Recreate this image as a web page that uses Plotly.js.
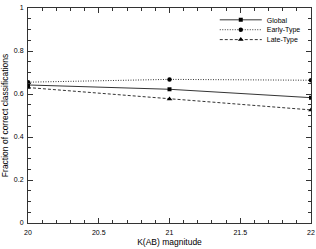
<!DOCTYPE html>
<html>
<head>
<meta charset="utf-8">
<script src="https://cdn.plot.ly/plotly-3.0.1.min.js"></script>
<style>html,body{margin:0;padding:0;background:#fff;}#chart{width:316px;height:249px;}</style>
</head>
<body>
<div id="chart"></div>
<script>
const magnitudes = [20, 21, 22];
const globalFrac = [0.642, 0.622, 0.583];
const earlyFrac = [0.655, 0.668, 0.664];
const lateFrac = [0.630, 0.577, 0.526];
const seriesNames = ["Global", "Early-Type", "Late-Type"];
const xTickVals = [20, 20.5, 21, 21.5, 22];
const xTickText = ["20", "20.5", "21", "21.5", "22"];
const yTickVals = [0, 0.2, 0.4, 0.6, 0.8, 1];
const yTickText = ["0", "0.2", "0.4", "0.6", "0.8", "1"];

const FONT = "Arial, 'Liberation Sans', Helvetica, sans-serif";

function tr(y, name, dash, symbol, size, legendId) {
  return {
    x: magnitudes, y: y, name: name, type: "scatter", mode: "lines+markers",
    line: {color: "#000", width: 0.8, dash: dash},
    marker: {color: "#000", symbol: symbol, size: size},
    legend: legendId
  };
}

const data = [
  tr(globalFrac, seriesNames[0], "solid", "square", 4, "legend"),
  tr(earlyFrac, seriesNames[1], "1px,1.5px", "circle", 4.5, "legend2"),
  tr(lateFrac, seriesNames[2], "3px,2px", "triangle-up", 5, "legend3")
];

const axisCommon = {
  showline: true, linecolor: "#333", linewidth: 1, mirror: "allticks",
  ticks: "inside", ticklen: 5, tickwidth: 1, tickcolor: "#333",
  showgrid: false, zeroline: false,
  tickfont: {size: 7, family: FONT, color: "#000"}
};

function leg(y) {
  return {x: 0.66, y: y, xanchor: "left", yanchor: "middle",
    font: {size: 7, family: FONT}, bgcolor: "rgba(0,0,0,0)", borderwidth: 0,
    itemwidth: 42};
}

const layout = {
  width: 316, height: 249,
  margin: {l: 28, r: 5, t: 5, b: 26},
  paper_bgcolor: "#fff", plot_bgcolor: "#fff",
  font: {family: FONT, color: "#000"},
  showlegend: true,
  legend: leg(0.945),
  legend2: leg(0.899),
  legend3: leg(0.853),
  xaxis: Object.assign({}, axisCommon, {
    range: [20, 22], tickmode: "array", tickvals: xTickVals, ticktext: xTickText,
    ticklabelstandoff: 3,
    minor: {dtick: 0.1, ticks: "inside", ticklen: 3, tickcolor: "#333", tickwidth: 1},
    title: {text: "K(AB) magnitude", font: {size: 8.5, family: FONT}, standoff: 3}
  }),
  yaxis: Object.assign({}, axisCommon, {
    range: [0, 1], tickmode: "array", tickvals: yTickVals, ticktext: yTickText,
    ticklabelstandoff: 2,
    minor: {dtick: 0.05, ticks: "inside", ticklen: 3, tickcolor: "#333", tickwidth: 1},
    title: {text: "Fraction of correct classifications", font: {size: 8.5, family: FONT}, standoff: 4}
  })
};

Plotly.newPlot("chart", data, layout, {displayModeBar: false, staticPlot: true});
</script>
</body>
</html>
